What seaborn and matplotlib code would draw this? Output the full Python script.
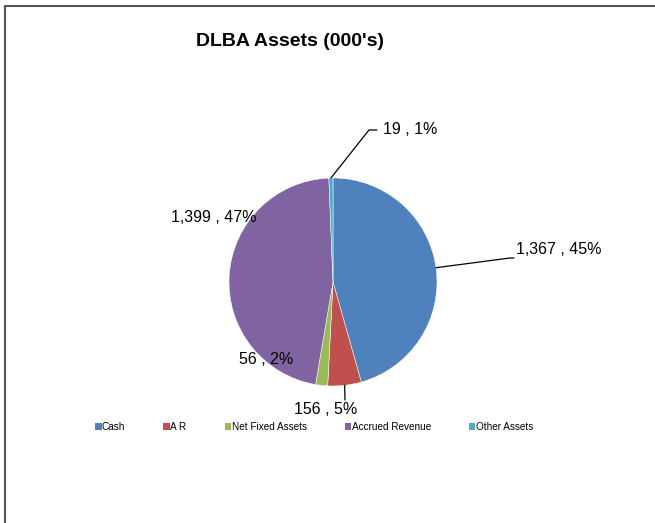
import numpy as np
import matplotlib
matplotlib.use("Agg")
import matplotlib.pyplot as plt
from matplotlib.lines import Line2D
from matplotlib.patches import Patch
import seaborn as sns

categories = ["Cash", "A R", "Net Fixed Assets", "Accrued Revenue", "Other Assets"]
values = [1367, 156, 56, 1399, 19]
pct_labels = [45, 5, 2, 47, 1]
colors = ["#4F81BD", "#C0504D", "#9BBB59", "#8064A2", "#4BACC6"]

sns.set_style("white")
plt.rcParams["font.family"] = ["Liberation Sans", "DejaVu Sans"]
plt.rcParams["text.color"] = "black"

W, H = 655, 523
fig = plt.figure(figsize=(W / 100, H / 100), dpi=100)
fig.patch.set_facecolor("white")

cx, cy, r = 333, 282, 104
ax = fig.add_axes([(cx - r) / W, (H - cy - r) / H, 2 * r / W, 2 * r / H])
wedges, _ = ax.pie(values, colors=sns.color_palette(colors), startangle=90,
                   counterclock=False, radius=1,
                   wedgeprops=dict(linewidth=0.35, edgecolor="white"))
ax.set_xlim(-1, 1)
ax.set_ylim(-1, 1)
ax.set_aspect("equal")
ax.axis("off")


def px2data(px, py):
    return (px - cx) / r, (cy - py) / r


labels = [f"{v:,} , {p}%" for v, p in zip(values, pct_labels)]
# label placement in figure pixels (text anchor) and optional leader path
place = {
    0: dict(text=(516, 250), ha="left", leader=[(510, 258), (514, 258)]),
    1: dict(text=(326, 410), ha="center", leader=[(345, 400)]),
    2: dict(text=(266, 360), ha="center", leader=None),
    3: dict(text=(214, 218), ha="center", leader=None),
    4: dict(text=(383, 130), ha="left", leader=[(369, 130), (377, 130)]),
}
for i, w in enumerate(wedges):
    ang = np.deg2rad((w.theta1 + w.theta2) / 2)
    p = place[i]
    tx, ty = px2data(*p["text"])
    ax.text(tx, ty, labels[i], ha=p["ha"], va="center", fontsize=11.5,
            color="black", clip_on=False)
    if p["leader"]:
        pts = [(np.cos(ang), np.sin(ang))] + [px2data(*q) for q in p["leader"]]
        xs, ys = zip(*pts)
        ax.plot(xs, ys, color="black", lw=0.9, clip_on=False)

fig.text(290 / W, 1 - 42 / H, "DLBA Assets (000's)", ha="center", va="center",
         fontsize=14, fontweight="bold", color="black")

handles = [Patch(facecolor=c, edgecolor="none") for c in colors]
fig.legend(handles, categories, loc="center", bbox_to_anchor=(314 / W, 1 - 427 / H),
           ncol=5, frameon=False, fontsize=7.2, handlelength=0.65, handleheight=0.65,
           handletextpad=0.05, columnspacing=3.8, labelcolor="black")

# chart border (top and left edges visible)
fig.add_artist(Line2D([5 / W, 1], [1 - 6 / H, 1 - 6 / H], color="#555555", lw=1.5,
                      transform=fig.transFigure))
fig.add_artist(Line2D([5 / W, 5 / W], [0, 1 - 6 / H], color="#555555", lw=1.5,
                      transform=fig.transFigure))

fig.savefig("out.png", dpi=100)
